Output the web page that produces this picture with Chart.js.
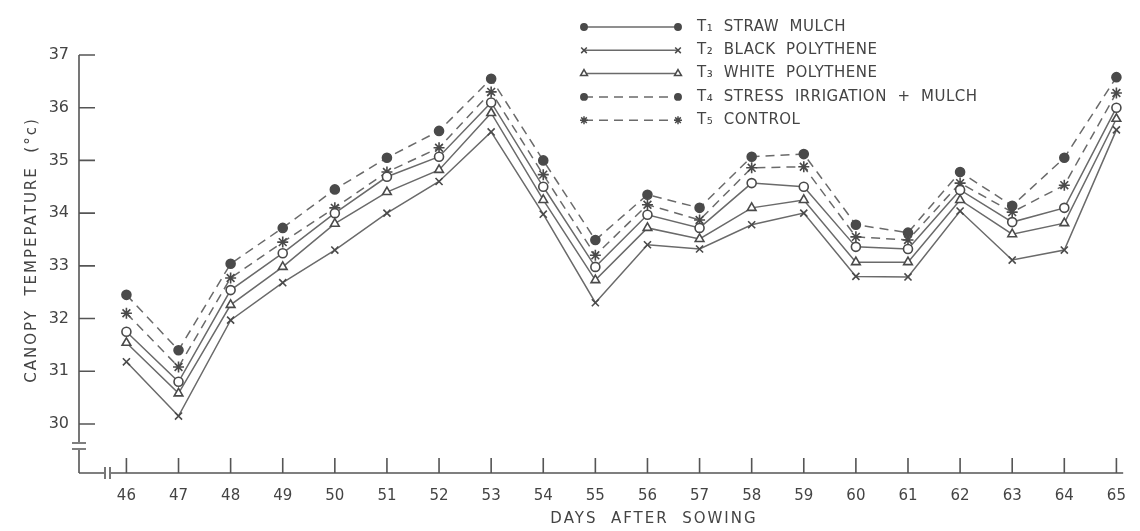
<!DOCTYPE html>
<html>
<head>
<meta charset="utf-8">
<script src="https://cdn.jsdelivr.net/npm/chart.js@4/dist/chart.umd.min.js"></script>
<style>
  html, body { margin: 0; padding: 0; background: #fff; }
  #wrap { width: 1140px; height: 531px; }
</style>
</head>
<body>
<div id="wrap"><canvas id="tempChart" width="1140" height="531"></canvas></div>
<script>
// days after sowing
const days = [46,47,48,49,50,51,52,53,54,55,56,57,58,59,60,61,62,63,64,65];
const yTicks = [30,31,32,33,34,35,36,37];

// canopy temperature (deg C)
const t1Straw   = [31.75,30.80,32.54,33.24,34.00,34.69,35.07,36.10,34.50,32.98,33.97,33.72,34.57,34.50,33.36,33.32,34.44,33.83,34.10,36.00];
const t2Black   = [31.18,30.15,31.97,32.68,33.30,34.00,34.60,35.54,33.98,32.30,33.40,33.32,33.78,34.00,32.80,32.79,34.04,33.11,33.30,35.58];
const t3White   = [31.54,30.58,32.26,32.98,33.80,34.40,34.82,35.90,34.25,32.73,33.72,33.51,34.10,34.25,33.07,33.07,34.25,33.60,33.81,35.79];
const t4Stress  = [32.45,31.40,33.04,33.72,34.45,35.05,35.56,36.55,35.00,33.49,34.35,34.10,35.07,35.12,33.78,33.63,34.78,34.14,35.05,36.58];
const t5Control = [32.10,31.08,32.77,33.45,34.10,34.78,35.24,36.30,34.73,33.20,34.16,33.87,34.86,34.88,33.55,33.49,34.57,34.02,34.53,36.28];

const labels = ["T\u2081  STRAW  MULCH", "T\u2082  BLACK  POLYTHENE", "T\u2083  WHITE  POLYTHENE",
                "T\u2084  STRESS  IRRIGATION  +  MULCH", "T\u2085  CONTROL"];

const lineCol = "#6a6a6a";
const markCol = "#4a4a4a";
const dash = [9, 6];

function pts(vals) {
    return days.map((d, i) => ({x: d, y: vals[i]}));
}

function series(label, vals, style, fill, dashed, radius) {
    return {
        label: label,
        data: pts(vals),
        borderColor: lineCol,
        borderWidth: 1.5,
        borderDash: dashed ? dash : [],
        pointStyle: style,
        pointRadius: radius,
        pointBorderColor: markCol,
        pointBorderWidth: 1.6,
        pointBackgroundColor: fill,
        tension: 0,
        clip: false
    };
}

const datasets = [
    series(labels[0], t1Straw, "circle", "#fff", false, 4.5),
    series(labels[1], t2Black, "crossRot", markCol, false, 5),
    series(labels[2], t3White, "triangle", "#fff", false, 5),
    series(labels[3], t4Stress, "circle", markCol, true, 4.5),
    series(labels[4], t5Control, "star", markCol, true, 5.5)
];

/* axes, breaks, titles and legend drawn like the original figure */
const frame = {
    id: "frame",
    afterDraw(chart) {
        const ctx = chart.ctx;
        const xs = chart.scales.x, ys = chart.scales.y;
        const a = chart.chartArea;
        ctx.save();
        ctx.strokeStyle = "#555";
        ctx.lineWidth = 1.6;

        // y axis with break near bottom
        ctx.beginPath();
        ctx.moveTo(a.left, ys.getPixelForValue(37));
        ctx.lineTo(a.left, 442);
        ctx.moveTo(a.left, 450);
        ctx.lineTo(a.left, a.bottom);
        ctx.moveTo(a.left - 7, 443); ctx.lineTo(a.left + 7, 443);
        ctx.moveTo(a.left - 7, 449); ctx.lineTo(a.left + 7, 449);
        // x axis with break near left
        ctx.moveTo(a.left, a.bottom);
        ctx.lineTo(104, a.bottom);
        ctx.moveTo(111, a.bottom);
        ctx.lineTo(a.right, a.bottom);
        ctx.moveTo(105, a.bottom - 6); ctx.lineTo(105, a.bottom + 6);
        ctx.moveTo(110, a.bottom - 6); ctx.lineTo(110, a.bottom + 6);
        // tick marks pointing inwards
        yTicks.forEach(v => {
            const y = ys.getPixelForValue(v);
            ctx.moveTo(a.left, y); ctx.lineTo(a.left + 16, y);
        });
        days.forEach(d => {
            const x = xs.getPixelForValue(d);
            ctx.moveTo(x, a.bottom); ctx.lineTo(x, a.bottom - 15);
        });
        ctx.stroke();

        // axis titles
        ctx.fillStyle = "#444";
        ctx.font = "15px 'DejaVu Sans'";
        ctx.textAlign = "center";
        ctx.textBaseline = "middle";
        ctx.letterSpacing = "2px";
        ctx.fillText("DAYS  AFTER  SOWING", 654, 519);
        ctx.save();
        ctx.translate(32, 250);
        ctx.rotate(-Math.PI / 2);
        ctx.fillText("CANOPY  TEMPEPATURE  (\u00B0c)", 0, 0);
        ctx.restore();

        // legend
        ctx.letterSpacing = "0.5px";
        ctx.textAlign = "left";
        const x0 = 584, x1 = 678, tx = 697;
        datasets.forEach((ds, i) => {
            const y = 27 + i * 23.3;
            ctx.strokeStyle = lineCol;
            ctx.lineWidth = 1.5;
            ctx.setLineDash(ds.borderDash);
            ctx.beginPath();
            ctx.moveTo(x0, y); ctx.lineTo(x1, y);
            ctx.stroke();
            ctx.setLineDash([]);
            [x0, x1].forEach(px => {
                ctx.strokeStyle = markCol;
                ctx.fillStyle = ds.pointStyle === "circle" ? markCol : ds.pointBackgroundColor;
                Chart.helpers.drawPoint(ctx, {
                    pointStyle: ds.pointStyle,
                    radius: ds.pointStyle === "circle" ? 3.2 : 4,
                    rotation: 0,
                    borderWidth: 1.5
                }, px, y);
            });
            ctx.fillStyle = "#444";
            ctx.fillText(ds.label, tx, y);
        });
        ctx.restore();
    }
};

new Chart(document.getElementById("tempChart"), {
    type: "line",
    data: { datasets: datasets },
    plugins: [frame],
    options: {
        responsive: false,
        animation: false,
        layout: { padding: { top: 55, right: 3, left: 0, bottom: 0 } },
        plugins: { legend: { display: false }, tooltip: { enabled: false } },
        scales: {
            x: {
                type: "linear",
                min: 45.09,
                max: 65.13,
                afterBuildTicks: s => { s.ticks = days.map(v => ({value: v})); },
                afterFit: s => { s.height = 58; },
                grid: { display: false, drawTicks: false },
                border: { display: false },
                ticks: {
                    padding: 14,
                    color: "#444",
                    autoSkip: false,
                    maxRotation: 0,
                    font: { family: "DejaVu Sans", size: 15 },
                    callback: v => String(v)
                }
            },
            y: {
                min: 29.07,
                max: 37,
                afterBuildTicks: s => { s.ticks = yTicks.map(v => ({value: v})); },
                afterFit: s => { s.width = 79; },
                grid: { display: false, drawTicks: false },
                border: { display: false },
                ticks: {
                    padding: 10,
                    color: "#444",
                    font: { family: "DejaVu Sans", size: 16 },
                    callback: v => String(v)
                }
            }
        }
    }
});
</script>
</body>
</html>
